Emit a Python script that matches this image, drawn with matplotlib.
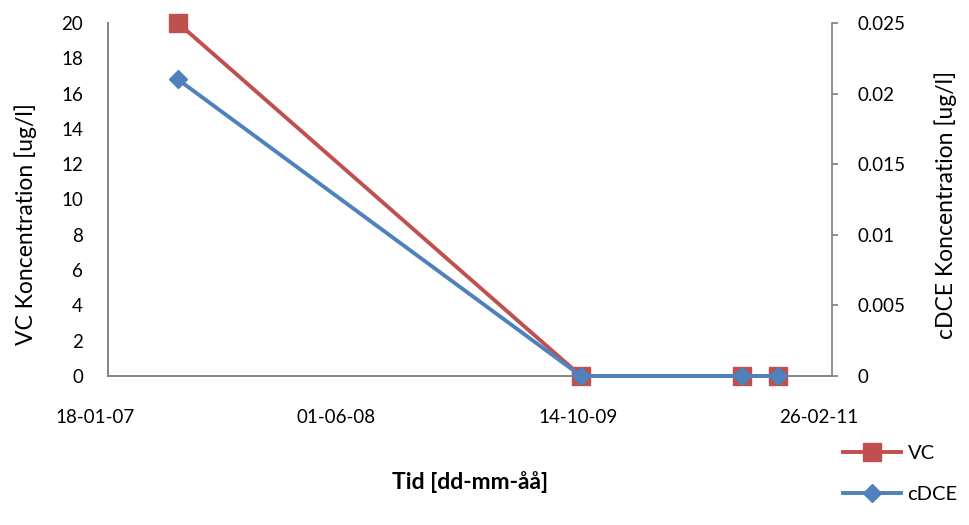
import datetime as dt
import matplotlib
matplotlib.use("Agg")
import matplotlib.pyplot as plt
import matplotlib.dates as mdates
import matplotlib.transforms as mtransforms
from matplotlib.ticker import MultipleLocator, FuncFormatter

plt.rcParams['font.family'] = ['Lato', 'DejaVu Sans']

# sampling dates and concentrations
dates = [dt.date(2007, 6, 12), dt.date(2009, 9, 24), dt.date(2010, 8, 23), dt.date(2010, 11, 6)]
vc = [20, 0, 0, 0]
cdce = [0.021, 0, 0, 0]
tick_dates = [dt.date(2007, 1, 18), dt.date(2008, 6, 1), dt.date(2009, 10, 14), dt.date(2011, 2, 26)]

red = '#C0504D'
blue = '#4F81BD'
grey = '#868686'

fig = plt.figure(figsize=(9.7, 5.25), dpi=100)
ax = fig.add_axes([108/970, 149/525, 724/970, 353/525])
ax2 = ax.twinx()

l1, = ax.plot(dates, vc, color=red, lw=2.8, marker='s', ms=13, label='VC',
              zorder=3, clip_on=False)
l2, = ax2.plot(dates, cdce, color=blue, lw=2.8, marker='D', ms=9, label='cDCE',
               zorder=4, clip_on=False)

ax.set_xlim(mdates.date2num(tick_dates[0]), mdates.date2num(tick_dates[-1]))
ax.set_xticks(mdates.date2num(tick_dates))
ax.xaxis.set_major_formatter(mdates.DateFormatter('%d-%m-%y'))
ax.set_ylim(0, 20)
ax.yaxis.set_major_locator(MultipleLocator(2))
ax2.set_ylim(0, 0.025)
ax2.yaxis.set_major_locator(MultipleLocator(0.005))
ax2.yaxis.set_major_formatter(FuncFormatter(lambda v, p: '0' if v == 0 else ('%g' % round(v, 3))))

for a in (ax, ax2):
    a.spines['top'].set_visible(False)
    for s in a.spines.values():
        s.set_color(grey)
        s.set_linewidth(1.3)
ax.spines['right'].set_visible(False)
ax2.set_zorder(ax.get_zorder() + 1)

ax.tick_params(axis='x', length=0, pad=24, labelsize=13.5)
ax.tick_params(axis='y', length=0, pad=18, labelsize=13.5)
ax2.tick_params(axis='y', length=4, width=1.3, color=grey, pad=14, labelsize=13.5)

# date labels sit slightly left of their tick positions
shift = mtransforms.ScaledTranslation(-0.13, 0, fig.dpi_scale_trans)
for lbl in ax.get_xticklabels():
    lbl.set_transform(lbl.get_transform() + shift)

ax.set_xlabel('Tid [dd-mm-åå]', fontsize=16.5, fontweight='bold')
ax.xaxis.set_label_coords(0.5, -0.27)
ax.set_ylabel('VC Koncentration [ug/l]', fontsize=16.5)
ax.yaxis.set_label_coords(-0.098, 0.43)
ax2.set_ylabel('cDCE Koncentration [ug/l]', fontsize=16.5)
ax2.yaxis.set_label_coords(1.142, 0.484)

fig.legend(handles=[l1, l2], loc='upper left', bbox_to_anchor=(843/970, 1 - 445/525),
           frameon=False, fontsize=14.5, handlelength=2.9, handletextpad=0.3,
           labelspacing=1.2, borderpad=0, borderaxespad=0)

fig.savefig('out.png', dpi=100)
